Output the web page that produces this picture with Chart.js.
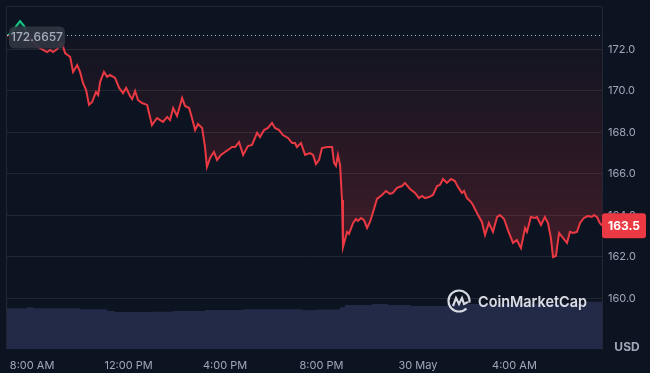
<!DOCTYPE html>
<html>
<head>
<meta charset="utf-8">
<script src="https://cdn.jsdelivr.net/npm/chart.js@4.4.1/dist/chart.umd.min.js"></script>
<style>
    html, body { margin: 0; padding: 0; background: #0d1421; }
    #wrap { width: 650px; height: 373px; position: relative; }
</style>
</head>
<body>
<div id="wrap"><canvas id="priceChart" width="650" height="373"></canvas></div>
<script>
// Price data (time in hours from 0:00 of day 1)
const times = [6.96, 7.17, 7.34, 7.50, 7.67, 7.83, 8.04, 8.25, 8.46, 8.62, 8.75, 8.87, 9.04, 9.24, 9.37, 9.58, 9.70, 9.87, 9.99, 10.11,
    10.24, 10.36, 10.49, 10.65, 10.74, 10.82, 10.98, 11.11, 11.23, 11.44, 11.61, 11.77, 11.90, 12.06, 12.15, 12.27, 12.39, 12.56, 12.77, 12.97,
    13.18, 13.31, 13.43, 13.60, 13.72, 13.85, 14.01, 14.22, 14.34, 14.51, 14.63, 14.76, 14.88, 15.05, 15.17, 15.25, 15.38, 15.54, 15.67, 15.83,
    16.00, 16.12, 16.29, 16.42, 16.58, 16.75, 16.95, 17.12, 17.33, 17.45, 17.62, 17.78, 17.95, 18.07, 18.24, 18.40, 18.61, 18.78, 18.90, 18.98,
    19.15, 19.32, 19.52, 19.65, 19.77, 19.90, 20.02, 20.23, 20.44, 20.52, 20.60, 20.68, 20.77, 20.85, 20.89, 21.06, 21.14, 21.31, 21.43, 21.51,
    21.64, 21.76, 21.89, 22.01, 22.14, 22.30, 22.51, 22.67, 22.84, 22.96, 23.13, 23.34, 23.46, 23.67, 23.88, 24.04, 24.17, 24.29, 24.46, 24.62,
    24.79, 24.91, 25.04, 25.20, 25.37, 25.53, 25.66, 25.82, 25.91, 26.03, 26.20, 26.28, 26.49, 26.65, 26.78, 26.94, 27.11, 27.28, 27.40, 27.57,
    27.73, 27.94, 28.10, 28.27, 28.44, 28.52, 28.68, 28.85, 28.93, 29.10, 29.26, 29.39, 29.51, 29.60, 29.72, 29.85, 30.01, 30.18, 30.30, 30.43,
    30.59, 30.72, 30.88, 31.05, 31.21, 31.30, 31.42, 31.54, 31.63];
const prices = [172.64, 172.83, 173.12, 173.36, 173.12, 172.64, 172.35, 172.11, 171.97, 171.87, 171.97, 171.87, 172.01, 172.30, 171.82, 171.63, 170.91, 171.24, 170.91, 170.38,
    170.04, 169.32, 169.46, 169.94, 169.80, 170.42, 170.91, 170.67, 170.76, 170.62, 170.14, 169.89, 170.14, 169.75, 169.60, 169.99, 169.56, 169.41, 169.32, 168.35,
    168.69, 168.59, 168.50, 168.74, 168.59, 169.17, 168.79, 169.65, 169.27, 169.17, 168.69, 168.11, 168.40, 168.21, 167.29, 166.33, 166.76, 167.05, 166.67, 166.91,
    167.05, 167.15, 167.29, 167.29, 167.53, 166.91, 167.34, 167.39, 167.97, 167.77, 168.11, 168.21, 168.45, 168.21, 168.11, 167.87, 167.73, 167.48, 167.48, 167.29,
    167.48, 166.91, 167.00, 166.91, 166.47, 166.67, 167.24, 167.29, 167.29, 166.52, 166.38, 166.91, 166.42, 164.74, 162.47, 163.20, 163.10, 163.63, 163.82, 163.73,
    163.87, 163.77, 163.39, 163.68, 164.16, 164.79, 164.98, 165.17, 165.03, 165.08, 165.32, 165.41, 165.56, 165.27, 165.08, 164.83, 164.93, 164.83, 164.88, 164.98,
    165.41, 165.46, 165.75, 165.56, 165.75, 165.65, 165.36, 165.08, 165.17, 164.83, 164.64, 164.50, 164.01, 163.68, 163.05, 163.63, 163.20, 163.92, 164.01, 163.82,
    163.29, 162.67, 162.81, 162.42, 163.39, 163.20, 163.92, 163.87, 163.92, 163.53, 163.92, 163.63, 162.91, 161.99, 162.04, 163.15, 162.91, 162.67, 163.20, 163.15,
    163.20, 163.63, 163.87, 163.97, 163.92, 164.01, 163.92, 163.63, 163.50];

// Volume (M USD), each value holds until the next time
const volTimes = [6.96, 7.79, 8.04, 9.99, 11.11, 11.44, 12.97, 13.84, 15.17, 16.75, 19.23, 19.52, 19.81, 20.77, 20.97, 22.09, 22.76, 23.67, 25.20, 27.40, 31.01, 31.63];
const volValues = [47.6, 48.8, 47.6, 46.4, 44.4, 43.3, 43.6, 44.4, 45.6, 46.4, 45.3, 45.6, 46.2, 48.8, 51.5, 52.6, 51.5, 50.3, 52.6, 53.2, 55.3, 55.3];

const openPrice = 172.6657;
const lastPrice = 163.5;

const priceTicks = [160, 162, 164, 166, 168, 170, 172];
const timeTicks = [8, 12, 16, 20, 24, 28];
const timeTickLabels = ['8:00 AM', '12:00 PM', '4:00 PM', '8:00 PM', '30 May', '4:00 AM'];

const RED = '#ea3943';
const GREEN = '#16c784';
const GRID = '#232733';
const LABEL = '#a1a7bb';

const ctx = document.getElementById('priceChart').getContext('2d');

// red fill between the line and the open price
let redFill = ctx.createLinearGradient(0, 36, 0, 262);
redFill.addColorStop(0, 'rgba(234, 57, 67, 0.02)');
redFill.addColorStop(1, 'rgba(234, 57, 67, 0.24)');

// line colour switches at the open price
function lineColor(context) {
    const chart = context.chart;
    const area = chart.chartArea;
    if (!area) return RED;
    const yb = chart.scales.y.getPixelForValue(openPrice);
    const stop = Math.min(1, Math.max(0, (yb - area.top) / (area.bottom - area.top)));
    const g = chart.ctx.createLinearGradient(0, area.top, 0, area.bottom);
    g.addColorStop(0, GREEN);
    g.addColorStop(stop, GREEN);
    g.addColorStop(stop, RED);
    g.addColorStop(1, RED);
    return g;
}

function roundRect(c, x, y, w, h, r) {
    c.beginPath();
    c.moveTo(x + r, y);
    c.lineTo(x + w - r, y);
    c.quadraticCurveTo(x + w, y, x + w, y + r);
    c.lineTo(x + w, y + h - r);
    c.quadraticCurveTo(x + w, y + h, x + w - r, y + h);
    c.lineTo(x + r, y + h);
    c.quadraticCurveTo(x, y + h, x, y + h - r);
    c.lineTo(x, y + r);
    c.quadraticCurveTo(x, y, x + r, y);
    c.closePath();
}

const overlay = {
    id: 'overlay',
    beforeDatasetsDraw(chart) {
        const c = chart.ctx;
        const a = chart.chartArea;
        c.save();
        // frame
        c.strokeStyle = GRID;
        c.lineWidth = 1;
        c.beginPath();
        c.moveTo(a.left - 0.5, a.bottom);
        c.lineTo(a.left - 0.5, a.top - 0.5);
        c.lineTo(a.right, a.top - 0.5);
        c.stroke();
        c.restore();
    },
    afterDatasetsDraw(chart) {
        const c = chart.ctx;
        const a = chart.chartArea;
        const yOpen = Math.round(chart.scales.y.getPixelForValue(openPrice)) + 0.5;
        c.save();
        // dotted open price line
        c.strokeStyle = 'rgba(225, 228, 236, 0.8)';
        c.setLineDash([1, 3]);
        c.lineWidth = 1;
        c.beginPath();
        c.moveTo(a.left, yOpen);
        c.lineTo(a.right, yOpen);
        c.stroke();
        c.setLineDash([]);

        // open price label
        c.fillStyle = 'rgba(48, 53, 66, 0.92)';
        roundRect(c, a.left + 2, yOpen - 9, 56, 22, 6);
        c.fill();
        c.fillStyle = '#a6adbd';
        c.font = '500 12px Inter';
        c.textAlign = 'center';
        c.textBaseline = 'middle';
        c.fillText(openPrice.toFixed(4), a.left + 30, yOpen + 2);

        // watermark
        const wx = 459, wy = 301;
        c.strokeStyle = 'rgba(235, 238, 245, 0.9)';
        c.lineWidth = 2.2;
        c.beginPath();
        c.arc(wx, wy, 10.5, 0.25 * Math.PI, 2.05 * Math.PI);
        c.stroke();
        c.beginPath();
        c.moveTo(wx - 6, wy + 5);
        c.lineTo(wx - 3, wy - 3);
        c.lineTo(wx, wy + 3);
        c.lineTo(wx + 3, wy - 3);
        c.lineTo(wx + 5, wy + 3);
        c.lineTo(wx + 9, wy + 1);
        c.stroke();
        c.fillStyle = 'rgba(235, 238, 245, 0.92)';
        c.font = '600 15px Inter';
        c.textAlign = 'left';
        c.fillText('CoinMarketCap', 478, wy + 1, 109);
        c.restore();
    },
    afterDraw(chart) {
        const c = chart.ctx;
        const a = chart.chartArea;
        const yLast = chart.scales.y.getPixelForValue(lastPrice);
        c.save();
        // last price tag
        c.fillStyle = RED;
        roundRect(c, a.right, yLast - 12.5, 44, 25, 3);
        c.fill();
        c.fillStyle = '#ffffff';
        c.font = 'bold 12px Inter';
        c.textAlign = 'center';
        c.textBaseline = 'middle';
        c.fillText(lastPrice.toFixed(1), a.right + 22, yLast + 0.5);

        // currency
        c.fillStyle = LABEL;
        c.font = 'bold 12px Inter';
        c.fillText('USD', a.right + 25, a.bottom - 2);
        c.restore();
    }
};

const priceChart = new Chart(ctx, {
    type: 'line',
    data: {
        datasets: [{
            label: 'Price',
            data: times.map((t, i) => ({ x: t, y: prices[i] })),
            borderColor: lineColor,
            borderWidth: 2,
            pointRadius: 0,
            tension: 0,
            fill: {
                target: { value: openPrice },
                above: 'rgba(22, 199, 132, 0.15)',
                below: redFill
            },
            yAxisID: 'y',
            order: 1
        },
        {
            label: 'Volume',
            data: volTimes.map((t, i) => ({ x: t, y: volValues[i] })),
            borderWidth: 0,
            borderColor: 'rgba(0,0,0,0)',
            backgroundColor: '#222a48',
            pointRadius: 0,
            stepped: true,
            fill: 'origin',
            yAxisID: 'vol',
            order: 2
        }]
    },
    options: {
        responsive: false,
        animation: false,
        layout: {
            padding: { left: 7, top: 7, right: 0, bottom: 0 }
        },
        plugins: {
            legend: { display: false },
            tooltip: { enabled: false }
        },
        scales: {
            x: {
                type: 'linear',
                min: 6.96,
                max: 31.63,
                afterBuildTicks: axis => {
                    axis.ticks = timeTicks.map(v => ({ value: v }));
                },
                afterFit: axis => {
                    axis.height = 24;
                    axis.paddingLeft = 0;
                    axis.paddingRight = 0;
                },
                grid: { display: false, drawTicks: false },
                border: { display: false },
                ticks: {
                    autoSkip: false,
                    maxRotation: 0,
                    padding: 10,
                    color: LABEL,
                    font: { size: 11, family: 'Inter' },
                    callback: function(value) {
                        const i = timeTicks.indexOf(value);
                        return i >= 0 ? timeTickLabels[i] : '';
                    }
                }
            },
            y: {
                position: 'right',
                min: 157.557,
                max: 174.039,
                afterBuildTicks: axis => {
                    axis.ticks = priceTicks.map(v => ({ value: v }));
                },
                afterFit: axis => {
                    axis.width = 48;
                    axis.paddingTop = 0;
                    axis.paddingBottom = 0;
                },
                grid: {
                    color: GRID,
                    drawTicks: false
                },
                border: { display: true, color: GRID },
                ticks: {
                    padding: 6,
                    color: LABEL,
                    font: { size: 11, family: 'Inter' },
                    callback: function(value) {
                        return value.toFixed(1);
                    }
                }
            },
            vol: {
                display: false,
                min: 0,
                max: 400
            }
        }
    },
    plugins: [overlay]
});
</script>
</body>
</html>
